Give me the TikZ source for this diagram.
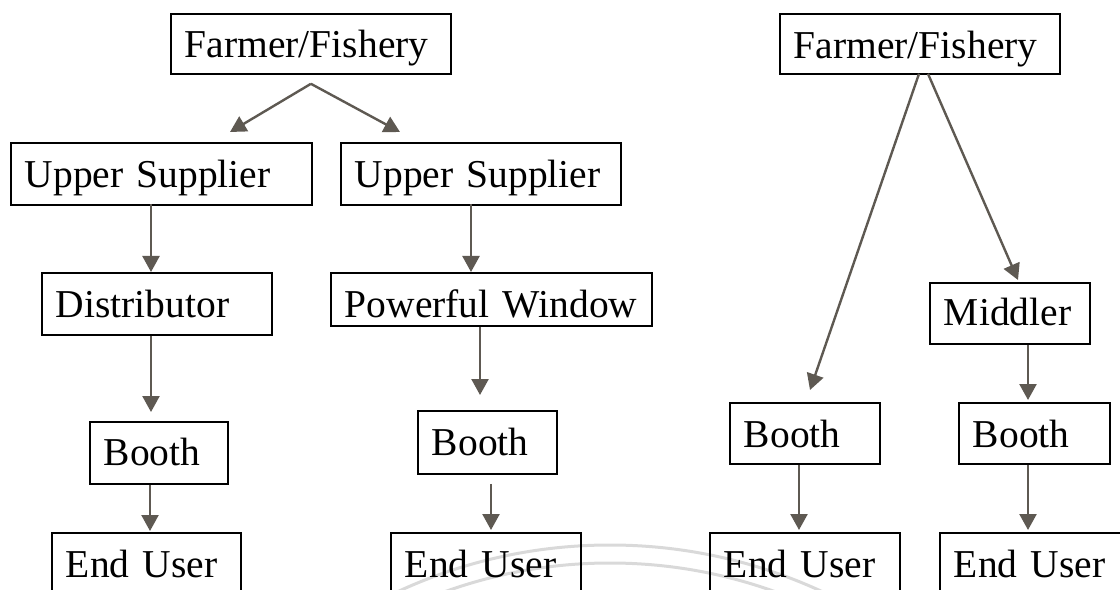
\documentclass[tikz,border=0pt]{standalone}
\usepackage{fontspec}
\setmainfont{Liberation Serif}
\usetikzlibrary{arrows.meta,calc}

\definecolor{arrowgray}{HTML}{5E5952}
\definecolor{ringgray}{HTML}{D9D9D9}

\tikzset{
  box/.style={draw=black, line width=1.8bp, anchor=north west,
    inner xsep=14bp, inner ysep=0pt, align=left,
    font=\fontsize{39.5bp}{46bp}\selectfont},
  flow/.style={draw=arrowgray, line width=2.4bp,
    -{Triangle[width=17bp,length=16bp]}},
  ring/.style={draw=ringgray, line width=3bp}
}

\begin{document}
\begin{tikzpicture}[x=1bp,y=-1bp]
\useasboundingbox (0,0) rectangle (1120,590);
\clip (0,0) rectangle (1120,590);

% faint circular arcs near the bottom
\draw[ring] (610,1050) circle[radius=505];
\draw[ring] (610,1050) circle[radius=487];

% ---- chain one and two ----
\node[box, text width=252bp, text height=44bp, text depth=16bp] (f1) at (170,13) {Farmer/Fishery};
\node[box, text width=273bp, text height=45bp, text depth=17bp] (u1) at (10,142) {Upper Supplier};
\node[box, text width=252bp, text height=45bp, text depth=17bp] (u2) at (340,142) {Upper Supplier};
\node[box, text width=202bp, text height=45bp, text depth=17bp] (d1) at (41,272) {Distributor};
\node[box, text width=293bp, text height=45bp, text depth=8bp]  (p1) at (330,272) {Powerful Window};
\node[box, text width=110bp, text height=44bp, text depth=18bp] (b1) at (89,421) {Booth};
\node[box, text width=111bp, text height=45bp, text depth=18bp] (b2) at (417,410) {Booth};
\node[box, text width=161bp, text height=45bp, text depth=17bp] (e1) at (51,532) {End User};
\node[box, text width=162bp, text height=45bp, text depth=17bp] (e2) at (390,532) {End User};

% ---- chain three and four ----
\node[box, text width=252bp, text height=45bp, text depth=15bp] (f2) at (779,13) {Farmer/Fishery};
\node[box, text width=132bp, text height=43bp, text depth=18bp] (m1) at (929,282) {Middler};
\node[box, text width=122bp, text height=45bp, text depth=16bp] (b3) at (729,402) {Booth};
\node[box, text width=123bp, text height=45bp, text depth=16bp] (b4) at (958,402) {Booth};
\node[box, text width=162bp, text height=45bp, text depth=17bp] (e3) at (709,532) {End User};
\node[box, text width=162bp, text height=45bp, text depth=17bp] (e4) at (939,532) {End User};

% ---- connectors ----
\coordinate (apex) at ($(f1.south)+(0,9)$);
\draw[flow] (apex) -- ($(u1.north west)+(220,-10)$);
\draw[flow] (apex) -- ($(u2.north west)+(60,-10)$);
\draw[flow] ($(u1.south west)+(141,-2)$) -- ($(d1.north west)+(110,0)$);
\draw[flow] ($(u2.south west)+(131,-2)$) -- ($(p1.north west)+(141,0)$);
\draw[flow] ($(d1.south west)+(110,0)$) -- ($(b1.north west)+(62,-9)$);
\draw[flow] ($(p1.south west)+(150,0)$) -- ($(b2.north west)+(63,-15)$);
\draw[flow] ($(b1.south west)+(61,0)$) -- ($(e1.north west)+(99,-1)$);
\draw[flow] ($(b2.south west)+(74,9)$) -- ($(e2.north west)+(101,-2)$);

\draw[flow] ($(f2.south west)+(140,-1)$) -- ($(b3.north west)+(81,-12)$);
\draw[flow] ($(f2.south west)+(149,-1)$) -- ($(m1.north west)+(89,-2)$);
\draw[flow] ($(b3.south west)+(70,0)$) -- ($(e3.north west)+(90,-2)$);
\draw[flow] ($(m1.south west)+(99,0)$) -- ($(b4.north west)+(70,-2)$);
\draw[flow] ($(b4.south west)+(70,0)$) -- ($(e4.north west)+(89,-2)$);
\end{tikzpicture}
\end{document}
